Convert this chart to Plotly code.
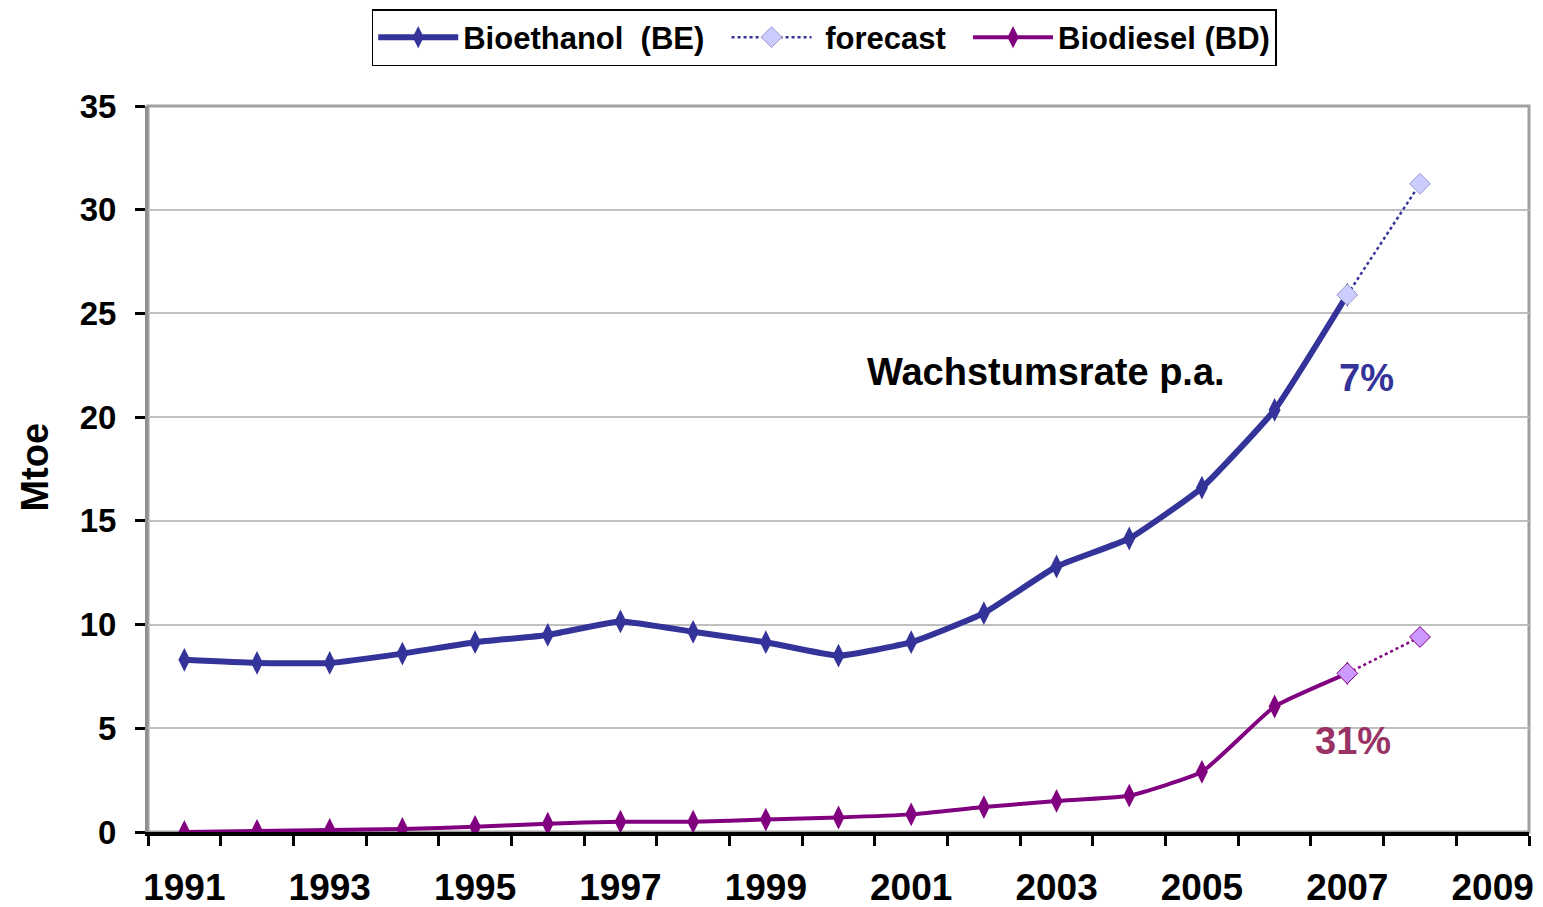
import plotly.graph_objects as go

# actual values, Mtoe
years = [1991, 1992, 1993, 1994, 1995, 1996, 1997, 1998, 1999, 2000,
         2001, 2002, 2003, 2004, 2005, 2006, 2007]
bioethanol = [8.3, 8.15, 8.15, 8.6, 9.15, 9.5, 10.15, 9.65, 9.15, 8.5,
              9.15, 10.55, 12.8, 14.15, 16.6, 20.35, 25.9]
biodiesel = [0.0, 0.05, 0.1, 0.15, 0.25, 0.4, 0.5, 0.5, 0.6, 0.7,
             0.85, 1.2, 1.5, 1.75, 2.9, 6.05, 7.65]

# forecast
fc_years = [2007, 2008]
fc_bioethanol = [25.9, 31.25]
fc_biodiesel = [7.65, 9.4]

tick_years = [1991, 1993, 1995, 1997, 1999, 2001, 2003, 2005, 2007, 2009]
y_ticks = [0, 5, 10, 15, 20, 25, 30, 35]

BLUE = "#333399"
PURPLE = "#800080"
FONT = "Liberation Sans"

fig = go.Figure()

fig.add_trace(go.Scatter(
    x=years, y=bioethanol, name="<b>Bioethanol  (BE)</b>  ", mode="lines+markers",
    line=dict(color=BLUE, width=6, shape="spline", smoothing=0.4),
    marker=dict(symbol="diamond-tall", size=17, color=BLUE)))

fig.add_trace(go.Scatter(
    x=fc_years, y=fc_bioethanol, name=" <b>forecast</b>  ", mode="lines+markers",
    line=dict(color=BLUE, width=2.5, dash="dot"),
    marker=dict(symbol="diamond", size=16, color="#ccccff",
                line=dict(color="#9999cc", width=1))))

fig.add_trace(go.Scatter(
    x=years, y=biodiesel, name="<b>Biodiesel (BD)</b>", mode="lines+markers",
    line=dict(color=PURPLE, width=4, shape="spline", smoothing=0.4),
    marker=dict(symbol="diamond-tall", size=17, color=PURPLE)))

fig.add_trace(go.Scatter(
    x=fc_years, y=fc_biodiesel, name="forecast BD", mode="lines+markers",
    showlegend=False,
    line=dict(color=PURPLE, width=2.5, dash="dot"),
    marker=dict(symbol="diamond", size=16, color="#cc99ff",
                line=dict(color=PURPLE, width=1))))

# plot area border (top / right)
fig.add_shape(type="rect", xref="x domain", yref="y domain",
              x0=0, x1=1, y0=0, y1=1, layer="below",
              line=dict(color="#a0a0a0", width=3))

fig.add_annotation(x=2002.86, y=22.2, xref="x", yref="y", text="<b>Wachstumsrate p.a.</b>",
                   showarrow=False, xanchor="center",
                   font=dict(family=FONT, size=38, color="black"))
fig.add_annotation(x=2007.26, y=21.9, xref="x", yref="y", text="<b>7%</b>",
                   showarrow=False, font=dict(family=FONT, size=38, color=BLUE))
fig.add_annotation(x=2007.08, y=4.4, xref="x", yref="y", text="<b>31%</b>",
                   showarrow=False, font=dict(family=FONT, size=38, color="#993366"))
fig.add_annotation(x=-0.082, y=0.503, xref="paper", yref="paper", text="<b>Mtoe</b>",
                   showarrow=False, textangle=-90, xanchor="center", yanchor="middle",
                   font=dict(family=FONT, size=38, color="black"))

# page body keeps an 8px margin, so the figure is 8px smaller than the window
fig.update_layout(
    width=1535, height=899,
    margin=dict(l=140, r=14, t=98, b=75, autoexpand=False),
    plot_bgcolor="white", paper_bgcolor="white",
    font=dict(family=FONT, color="black"),
    showlegend=True,
    legend=dict(orientation="h", x=0.162, xanchor="left", y=1.1336, yanchor="top",
                bordercolor="black", borderwidth=1.5, bgcolor="white",
                font=dict(family=FONT, size=31, color="black"),
                itemwidth=80, tracegroupgap=0),
    xaxis=dict(
        range=[1990.5, 2009.5], tickmode="array", tickvals=tick_years,
        ticktext=["<b>%d</b>" % y for y in tick_years],
        ticks="", showgrid=False, zeroline=False,
        showline=True, linecolor="black", linewidth=4,
        tickfont=dict(family=FONT, size=37, color="black"),
        ticklabelstandoff=20,
        minor=dict(ticks="outside", tick0=1990.5, dtick=1, ticklen=10,
                   tickwidth=3, tickcolor="black", showgrid=False)),
    yaxis=dict(
        range=[0, 35], tickvals=y_ticks,
        ticktext=["<b>%d</b>" % v for v in y_ticks],
        ticks="outside", ticklen=10, tickwidth=3, tickcolor="black",
        showline=True, linecolor="#909090", linewidth=3,
        showgrid=True, gridcolor="#c0c0c0", gridwidth=2, zeroline=False,
        tickfont=dict(family=FONT, size=33, color="black"),
        ticklabelstandoff=12),
)

fig.write_html("out.html")
